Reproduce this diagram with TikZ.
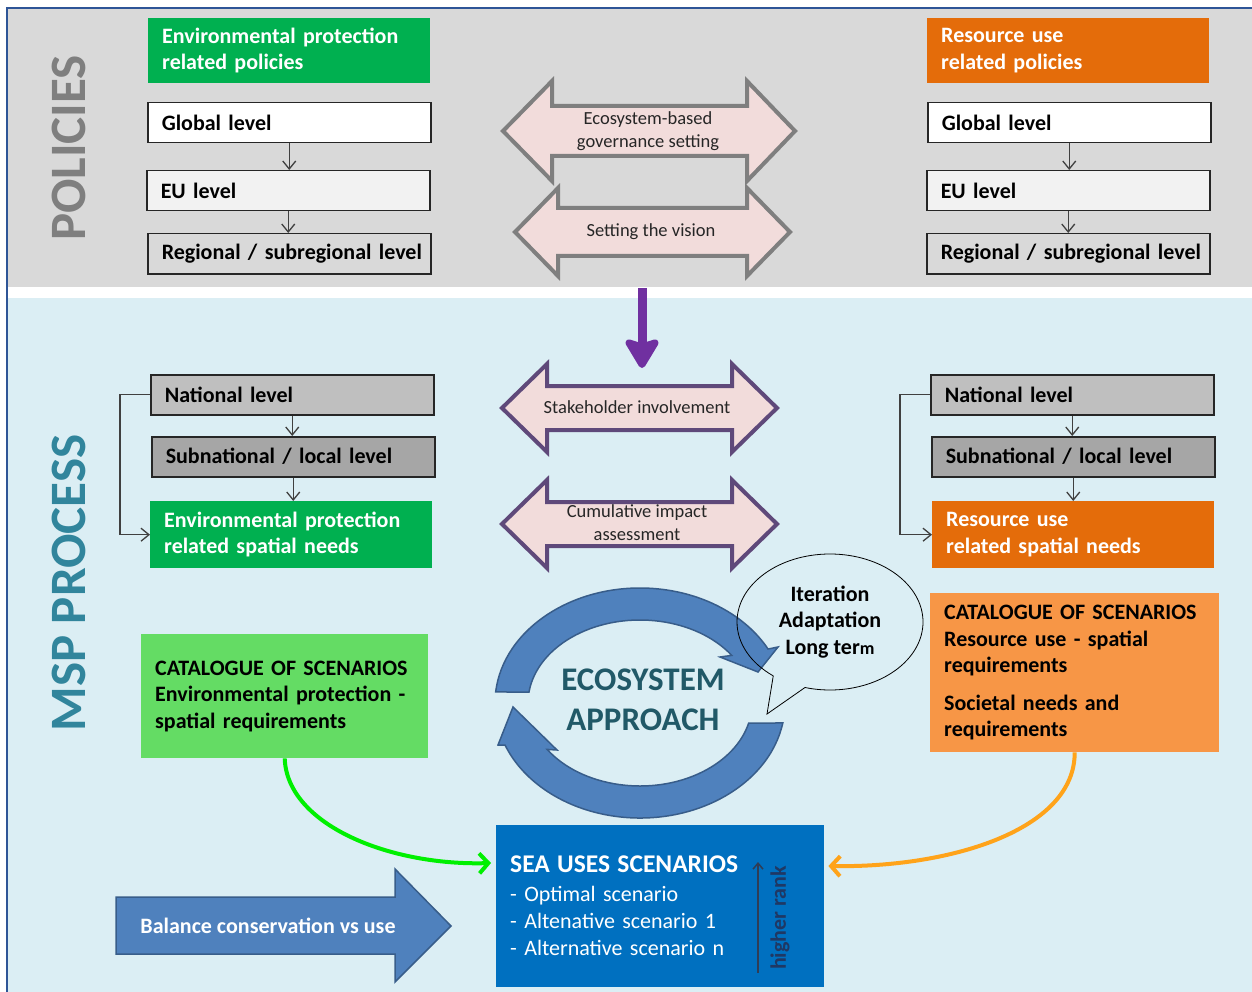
\documentclass[tikz,border=0pt]{standalone}
\usepackage{fontspec}
\setmainfont{Carlito}
\usetikzlibrary{arrows.meta,shapes.callouts,calc}

\definecolor{framebl}{HTML}{2E5597}
\definecolor{topgray}{HTML}{D9D9D9}
\definecolor{lightaqua}{HTML}{DBEEF4}
\definecolor{envgreen}{HTML}{00B050}
\definecolor{resorange}{HTML}{E46C0A}
\definecolor{catgreen}{HTML}{64DC64}
\definecolor{catorange}{HTML}{F79646}
\definecolor{seablue}{HTML}{0070C0}
\definecolor{cycblue}{HTML}{4F81BD}
\definecolor{cycline}{HTML}{385D8A}
\definecolor{ecoteal}{HTML}{215968}
\definecolor{mspteal}{HTML}{31859C}
\definecolor{polgray}{HTML}{7F7F7F}
\definecolor{eugray}{HTML}{F2F2F2}
\definecolor{natgray}{HTML}{BFBFBF}
\definecolor{subgray}{HTML}{A6A6A6}
\definecolor{arrowpink}{HTML}{F2DCDB}
\definecolor{grayline}{HTML}{7F7F7F}
\definecolor{purpline}{HTML}{5F497A}
\definecolor{purp}{HTML}{7030A0}
\definecolor{ranknavy}{HTML}{1F3864}
\definecolor{rankline}{HTML}{2F3D56}
\definecolor{lvlarrow}{HTML}{404040}
\definecolor{brightgreen}{HTML}{00F000}
\definecolor{amber}{HTML}{FFA31A}

\newcommand\labelfont{\fontsize{22}{26.5}\selectfont\bfseries}
\newcommand\midfont{\fontsize{18.5}{23}\selectfont}

% double-headed block arrow: style, left tip, left base, right base, right tip, centre y, half head, half shaft
\newcommand\dblarrow[8]{%
  \filldraw[#1] (#2,#6) -- (#3,#6-#7) -- (#3,#6-#8) -- (#4,#6-#8) -- (#4,#6-#7)
    -- (#5,#6) -- (#4,#6+#7) -- (#4,#6+#8) -- (#3,#6+#8) -- (#3,#6+#7) -- cycle;}

\begin{document}
\begin{tikzpicture}[x=1pt, y=-1pt,
  lvl/.style={draw=black!85, line width=1.5pt, minimum height=40pt, text width=255pt,
    inner xsep=14pt, inner ysep=0pt, align=left, anchor=north west, font=\labelfont},
  hdr/.style={minimum height=65pt, text width=254pt, inner xsep=14pt, inner ysep=0pt,
    align=left, anchor=north west, font=\labelfont, text=white},
  cat/.style={anchor=north west, inner xsep=14pt, inner ysep=0pt, align=left, font=\labelfont},
  lvlarr/.style={draw=lvlarrow, line width=1.3pt, -{Straight Barb[length=8pt,width=13pt]}},
  dblgray/.style={fill=arrowpink, draw=grayline, line width=4pt},
  dblpurp/.style={fill=arrowpink, draw=purpline, line width=4pt},
  midtext/.style={font=\midfont, align=center, text=black!85},
  cyc/.style={fill=cycblue, draw=cycline, line width=1.5pt},
  sweep/.style={line width=4pt, -{Straight Barb[length=9pt,width=20pt]}},
]
\useasboundingbox (0,0) rectangle (1252,992);

% backgrounds of the two bands and the frame
\fill[white] (0,0) rectangle (1252,992);
\fill[topgray] (8,9) rectangle (1252,287);
\fill[lightaqua] (8,298) rectangle (1252,992);
\draw[framebl, line width=2pt] (7,992) -- (7,8) -- (1252,8);

% band titles
\node[rotate=90, text=polgray, font=\fontsize{51}{60}\selectfont\bfseries] (poltitle) at (69,148) {POLICIES};
\node[rotate=90, text=mspteal, font=\fontsize{51}{60}\selectfont\bfseries] (msptitle) at (69,583) {MSP PROCESS};

% policy columns
\node[hdr, fill=envgreen] (pL) at (148,18) {Environmental protection\\related policies};
\node[lvl, fill=white] (gL) at (147,102) {Global level};
\node[lvl, fill=eugray] (eL) at (146,170) {EU level};
\node[lvl, fill=topgray] (rL) at (147,233) {\mbox{Regional / subregional level}};
\draw[lvlarr] (gL.south) -- (gL.south |- eL.north);
\draw[lvlarr] (eL.south) -- (eL.south |- rL.north);

\node[hdr, fill=resorange] (pR) at (927,18) {Resource use\\related policies};
\node[lvl, fill=white] (gR) at (927,102) {Global level};
\node[lvl, fill=eugray] (eR) at (926,170) {EU level};
\node[lvl, fill=topgray] (rR) at (926,233) {\mbox{Regional / subregional level}};
\draw[lvlarr] (gR.south) -- (gR.south |- eR.north);
\draw[lvlarr] (eR.south) -- (eR.south |- rR.north);

% double arrows of the policy band
\dblarrow{dblgray}{503}{552}{747}{795}{131}{50}{25}
\node[midtext] (govern) at (648,131) {Ecosystem-based\\governance setting};
\dblarrow{dblgray}{515}{558}{747}{790}{232}{44}{24}
\node[midtext] (vision) at (651,232) {Setting the vision};

% from policies to the MSP process
\coordinate (puTop) at (642,288);
\coordinate (puBot) at (642,368);
\draw[purp, line width=9pt, -{Stealth[length=34pt,width=40pt,inset=6pt,round]}] (puTop) -- (puBot);

% double arrows of the MSP band
\dblarrow{dblpurp}{502}{547}{732}{777}{408}{44}{22}
\node[midtext] (stake) at (637,407) {Stakeholder involvement};
\dblarrow{dblpurp}{502}{547}{732}{777}{524}{44}{22}
\node[midtext] (cumul) at (637,523) {Cumulative impact\\assessment};

% national columns
\node[lvl, fill=natgray] (nL) at (150,374) {National level};
\node[lvl, fill=subgray] (sL) at (151,436) {Subnational / local level};
\node[hdr, fill=envgreen, minimum height=67pt] (xL) at (150,501) {Environmental protection\\related spatial needs};
\draw[lvlarr] (nL.south) -- (nL.south |- sL.north);
\draw[lvlarr] (sL.south) -- (sL.south |- xL.north);
\draw[lvlarr] (nL.west) -- ++(-30,0) |- (xL.west);

\node[lvl, fill=natgray] (nR) at (930,374) {National level};
\node[lvl, fill=subgray] (sR) at (931,436) {Subnational / local level};
\node[hdr, fill=resorange, minimum height=67pt] (xR) at (932,501) {Resource use\\related spatial needs};
\draw[lvlarr] (nR.south) -- (nR.south |- sR.north);
\draw[lvlarr] (sR.south) -- (sR.south |- xR.north);
\draw[lvlarr] (nR.west) -- ++(-30,0) |- (xR.west);

% catalogues
\node[cat, fill=catgreen, text width=259pt, minimum height=124pt] (cL) at (141,634)
  {\mbox{CATALOGUE OF SCENARIOS}\\\mbox{Environmental protection -}\\spatial requirements};
\node[cat, fill=catorange, text width=261pt, minimum height=159pt] (cR) at (930,593)
  {\mbox{CATALOGUE OF SCENARIOS}\\Resource use - spatial\\requirements\\[11pt]Societal needs and\\requirements};

% ecosystem approach cycle
\begin{scope}[shift={(640,703)}, y=1pt]
  \filldraw[cyc] (174.5:145 and 115) arc[start angle=174.5, end angle=28, x radius=145, y radius=115]
    -- (138,56) -- (118,31) -- (80,46)
    -- (35:112 and 83) arc[start angle=35, end angle=172.4, x radius=112, y radius=83] -- cycle;
  \filldraw[cyc] (-10:145 and 115) arc[start angle=-10, end angle=-158.5, x radius=145, y radius=115]
    -- (-142,-42) -- (-127,-4) -- (-83,-47)
    -- (-146:112 and 83) arc[start angle=-146, end angle=-14, x radius=112, y radius=83] -- cycle;
\end{scope}
\node[font=\fontsize{33}{40}\selectfont\bfseries, text=ecoteal, align=center] (eco) at (643,700) {ECOSYSTEM\\APPROACH};

\node[ellipse callout, draw=black, line width=0.8pt, minimum width=186pt, minimum height=136pt,
  inner sep=0pt, callout absolute pointer={(767,714)}, callout pointer arc=22,
  align=center, font=\labelfont] (bubble) at (830,622)
  {Iteration\\Adaptation\\Long ter{\fontsize{18}{20}\selectfont m}};

% resulting scenarios
\node[anchor=north west, fill=seablue, minimum width=328pt, minimum height=162pt, text width=300pt,
  inner xsep=14pt, inner ysep=0pt, align=left, text=white, font=\fontsize{22}{27}\selectfont] (sea) at (496,825)
  {{\fontsize{25.5}{28}\selectfont\bfseries SEA USES SCENARIOS}\\[2pt]- Optimal scenario\\- Altenative scenario 1\\- Alternative scenario n};
\coordinate (rankBot) at (758,973);
\coordinate (rankTop) at (758,862);
\draw[rankline, line width=1.5pt, -{Straight Barb[length=6pt,width=10pt]}] (rankBot) -- (rankTop);
\node[rotate=90, font=\labelfont, text=ranknavy] (rank) at (780,918) {higher rank};

\draw[sweep, brightgreen] (cL.south) .. controls (287,825) and (390,866) .. ([xshift=-5pt,yshift=-38pt]sea.north west);
\draw[sweep, amber] (cR.south) .. controls (1075,830) and (950,868) .. ([xshift=4pt,yshift=-41pt]sea.north east);

% balance block arrow
\filldraw[cyc] (116,897) -- (395,897) -- (395,869) -- (451,926) -- (395,982) -- (395,954) -- (116,954) -- cycle;
\node[font=\labelfont, text=white] (balance) at (268,926) {Balance conservation vs use};

\end{tikzpicture}
\end{document}
